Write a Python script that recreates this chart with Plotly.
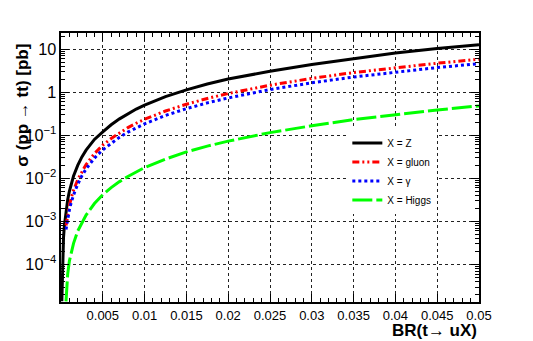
import plotly.graph_objects as go

# branching ratio grid (x) and cross sections [pb]
br = [0.0001, 0.00015, 0.0002, 0.0003, 0.0004, 0.0005, 0.0006, 0.0007, 0.0008,
      0.001, 0.0012, 0.0015, 0.002, 0.0025, 0.003, 0.004, 0.005, 0.006, 0.007,
      0.008, 0.009, 0.01, 0.0125, 0.015, 0.0175, 0.02, 0.025, 0.03, 0.035,
      0.04, 0.045, 0.05]

sigma_z = [1.4e-5, 6e-5, 1.6e-4, 4.2e-4, 7.8e-4, 1.2e-3, 1.8e-3, 2.5e-3, 3.2e-3,
           5.0e-3, 7.2e-3, 1.13e-2, 2.0e-2, 3.15e-2, 4.5e-2, 8.0e-2, 0.12, 0.175,
           0.24, 0.315, 0.405, 0.5, 0.79, 1.13, 1.55, 2.02, 3.05, 4.4, 6.0, 8.1,
           10.3, 12.6]

br_short = br[6:]
sigma_gluon = [8e-4, 1.1e-3, 1.5e-3, 2.3e-3, 3.4e-3, 5.3e-3, 9.3e-3, 1.45e-2,
               2.1e-2, 3.75e-2, 5.9e-2, 8.4e-2, 0.115, 0.15, 0.19, 0.235, 0.365,
               0.525, 0.715, 0.93, 1.45, 2.09, 2.85, 3.72, 4.7, 5.8]
sigma_gamma = [6.5e-4, 8.8e-4, 1.18e-3, 1.84e-3, 2.65e-3, 4.1e-3, 7.3e-3, 1.15e-2,
               1.65e-2, 2.95e-2, 4.6e-2, 6.6e-2, 9.0e-2, 0.118, 0.149, 0.184,
               0.288, 0.414, 0.563, 0.735, 1.15, 1.65, 2.25, 2.94, 3.72, 4.6]
sigma_higgs = [1.4e-5, 3.5e-5, 6e-5, 1.2e-4, 1.8e-4, 3.1e-4, 6e-4, 9.5e-4, 1.4e-3,
               2.6e-3, 4.2e-3, 6.1e-3, 8.4e-3, 1.1e-2, 1.42e-2, 1.78e-2, 2.8e-2,
               4.1e-2, 5.6e-2, 7.3e-2, 0.115, 0.166, 0.23, 0.3, 0.385, 0.48]

x_ticks = [0.005, 0.01, 0.015, 0.02, 0.025, 0.03, 0.035, 0.04, 0.045, 0.05]
x_labels = ["0.005", "0.01", "0.015", "0.02", "0.025", "0.03", "0.035", "0.04", "0.045", "0.05"]

FONT = "Liberation Sans, Arial, sans-serif"

fig = go.Figure()
fig.add_trace(go.Scatter(x=br, y=sigma_z, mode="lines", name="X = Z",
                         line=dict(color="black", width=3)))
fig.add_trace(go.Scatter(x=br_short, y=sigma_gluon, mode="lines", name="X = gluon",
                         line=dict(color="#ff0000", width=3, dash="7px,3px,2px,3px,2px,3px")))
fig.add_trace(go.Scatter(x=br_short, y=sigma_gamma, mode="lines", name="X = γ",
                         line=dict(color="#0000ff", width=3, dash="3px,3px")))
fig.add_trace(go.Scatter(x=br_short, y=sigma_higgs, mode="lines", name="X = Higgs",
                         line=dict(color="#00ff00", width=3, dash="20px,4px")))

axis_common = dict(
    showline=True, linecolor="black", linewidth=2, mirror="allticks",
    ticks="inside", tickcolor="black", ticklen=8, tickwidth=1,
    showgrid=True, gridcolor="#222", griddash="dot", gridwidth=1,
    zeroline=False, tickfont=dict(family=FONT, size=13, color="black"),
)

fig.update_xaxes(range=[0, 0.05], tickvals=x_ticks, ticktext=x_labels,
                 minor=dict(dtick=0.001, tick0=0, ticks="inside", ticklen=4,
                            tickcolor="black", showgrid=False),
                 **axis_common)
fig.update_yaxes(type="log", range=[-4.87, 1.373], dtick=1, exponentformat="power",
                 minor=dict(dtick="D1", ticks="inside", ticklen=4,
                            tickcolor="black", showgrid=False),
                 **axis_common)

fig.add_annotation(text="<b>σ (pp → tt) [pb]</b>", textangle=-90,
                   xref="paper", yref="paper", x=-0.092, y=0.968,
                   xanchor="center", yanchor="top", showarrow=False,
                   font=dict(family=FONT, size=17, color="black"))
fig.add_annotation(text="<b>BR(t→ uX)</b>", xref="paper", yref="paper",
                   x=1.0, y=-0.105, xanchor="right", yanchor="middle",
                   showarrow=False, font=dict(family=FONT, size=17, color="black"))

fig.update_layout(
    width=533, height=341,
    margin=dict(l=61, r=54, t=33, b=39),
    plot_bgcolor="white", paper_bgcolor="white",
    font=dict(family=FONT, color="black"),
    legend=dict(x=0.685, y=0.645, xanchor="left", yanchor="top",
                bgcolor="white", borderwidth=0,
                font=dict(family=FONT, size=10, color="black")),
)

# page body has a default 8px margin; drop it so the figure sits at the corner
fig.write_html("out.html", config={"displayModeBar": False},
               post_script="document.body.style.margin='0';")
